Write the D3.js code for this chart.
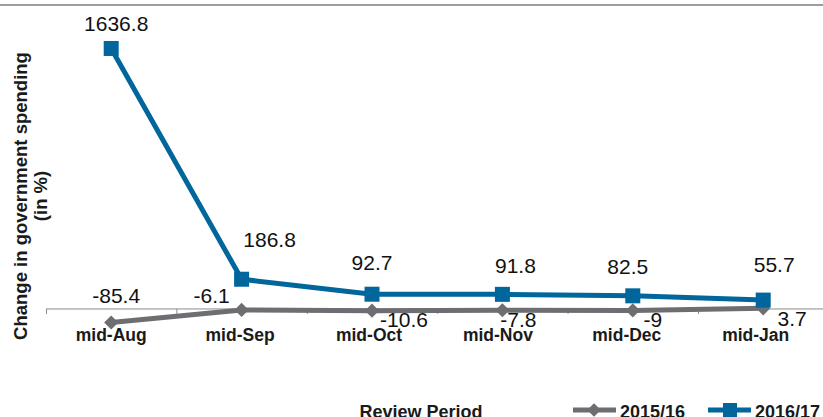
<!DOCTYPE html>
<html>
<head>
<meta charset="utf-8">
<script src="https://cdn.jsdelivr.net/npm/d3@7"></script>
<style>
  body { margin: 0; background: #fff; }
  svg { display: block; font-family: "Liberation Sans", Arial, Helvetica, sans-serif; }
</style>
</head>
<body>
<div id="chart"></div>
<script>
// data
var periods = ["mid-Aug", "mid-Sep", "mid-Oct", "mid-Nov", "mid-Dec", "mid-Jan"];
var spend1516 = [-85.4, -6.1, -10.6, -7.8, -9, 3.7];
var spend1617 = [1636.8, 186.8, 92.7, 91.8, 82.5, 55.7];
var seriesNames = ["2015/16", "2016/17"];

// label offsets (dx, dy) from each point, as placed in the original
var labelOff1516 = [[5, -20], [-30, -7], [32, 16], [16, 17], [20, 17], [29, 18]];
var labelOff1617 = [[5, -17], [28, -32], [0, -24], [13, -21], [-5, -22], [11, -28]];

// size
var width = 823;
var height = 417;
var plotLeft = 46;
var bandW = 130.4;

// colors
var blue = "#00669b";
var gray = "#6d6e71";
var axisColor = "#8a8a8a";

var svg = d3.select("#chart")
            .append("svg")
            .attr("width", width)
            .attr("height", height);

// scales
var xScale = d3.scaleBand()
               .domain(periods)
               .range([plotLeft, plotLeft + bandW * periods.length]);
var yScale = d3.scaleLinear()
               .domain([-300, 1910])
               .range([356.7, 5]);
function cx(d, i) { return xScale(periods[i]) + xScale.bandwidth() / 2; }

// top border line
svg.append("line")
   .attr("x1", 0).attr("x2", width)
   .attr("y1", yScale(1910)).attr("y2", yScale(1910))
   .attr("stroke", "#9d9d9d")
   .attr("stroke-width", 2);

// x axis line at zero
var y0 = yScale(0);
svg.append("line")
   .attr("x1", plotLeft).attr("x2", width)
   .attr("y1", y0).attr("y2", y0)
   .attr("stroke", axisColor)
   .attr("stroke-width", 1);
// boundary ticks
var bounds = periods.map(function(p) { return xScale(p); });
svg.selectAll(".tick_mark")
   .data(bounds)
   .enter().append("line")
   .attr("class", "tick_mark")
   .attr("x1", function(d) { return d + 0.5; })
   .attr("x2", function(d) { return d + 0.5; })
   .attr("y1", y0)
   .attr("y2", y0 + 5)
   .attr("stroke", axisColor)
   .attr("stroke-width", 1);

// category labels
svg.selectAll(".cat_label")
   .data(periods)
   .enter().append("text")
   .attr("class", "cat_label")
   .attr("x", function(d, i) { return cx(d, i) - 1.5 * i; })
   .attr("y", 341)
   .attr("text-anchor", "middle")
   .attr("font-size", 17.5)
   .attr("font-weight", "bold")
   .attr("fill", "#1a1a1a")
   .text(function(d) { return d; });

// y axis title
var yTitle = svg.append("text")
   .attr("transform", "translate(27,196) rotate(-90)")
   .attr("text-anchor", "middle")
   .attr("font-size", 18.5)
   .attr("font-weight", "bold")
   .attr("fill", "#1a1a1a");
yTitle.append("tspan").attr("x", 0).attr("dy", 0).text("Change in government spending");
yTitle.append("tspan").attr("x", 0).attr("dy", 19.5).text("(in %)");

// x axis title
svg.append("text")
   .attr("x", 421)
   .attr("y", 418)
   .attr("text-anchor", "middle")
   .attr("font-size", 18)
   .attr("font-weight", "bold")
   .attr("fill", "#1a1a1a")
   .text("Review Period");

// lines
var line = d3.line()
             .x(function(d, i) { return cx(d, i); })
             .y(function(d) { return yScale(d); });

svg.append("path")
   .datum(spend1516)
   .attr("fill", "none")
   .attr("stroke", gray)
   .attr("stroke-width", 5)
   .attr("d", line);

svg.append("path")
   .datum(spend1617)
   .attr("fill", "none")
   .attr("stroke", blue)
   .attr("stroke-width", 5)
   .attr("d", line);

// markers
var diamond = d3.symbol().type(d3.symbolSquare).size(100);
svg.selectAll(".m1516")
   .data(spend1516)
   .enter().append("path")
   .attr("class", "m1516")
   .attr("d", diamond)
   .attr("fill", gray)
   .attr("transform", function(d, i) {
     return "translate(" + cx(d, i) + "," + yScale(d) + ") rotate(45)";
   });

svg.selectAll(".m1617")
   .data(spend1617)
   .enter().append("rect")
   .attr("class", "m1617")
   .attr("x", function(d, i) { return cx(d, i) - 7.5; })
   .attr("y", function(d) { return yScale(d) - 7.5; })
   .attr("width", 15)
   .attr("height", 15)
   .attr("fill", blue);

// data labels
svg.selectAll(".l1516")
   .data(spend1516)
   .enter().append("text")
   .attr("class", "l1516")
   .attr("x", function(d, i) { return cx(d, i) + labelOff1516[i][0]; })
   .attr("y", function(d, i) { return yScale(d) + labelOff1516[i][1]; })
   .attr("text-anchor", "middle")
   .attr("font-size", 21)
   .attr("fill", "#111")
   .text(function(d) { return d; });

svg.selectAll(".l1617")
   .data(spend1617)
   .enter().append("text")
   .attr("class", "l1617")
   .attr("x", function(d, i) { return cx(d, i) + labelOff1617[i][0]; })
   .attr("y", function(d, i) { return yScale(d) + labelOff1617[i][1]; })
   .attr("text-anchor", "middle")
   .attr("font-size", 21)
   .attr("fill", "#111")
   .text(function(d) { return d; });

// legend
var legend = [
  {name: seriesNames[0], color: gray, x: 573, shape: "diamond"},
  {name: seriesNames[1], color: blue, x: 708, shape: "square"}
];
var legY = 410;
legend.forEach(function(l) {
  svg.append("line")
     .attr("x1", l.x).attr("x2", l.x + 43)
     .attr("y1", legY).attr("y2", legY)
     .attr("stroke", l.color)
     .attr("stroke-width", 5);
  if (l.shape == "diamond") {
    svg.append("path")
       .attr("d", d3.symbol().type(d3.symbolSquare).size(90))
       .attr("fill", l.color)
       .attr("transform", "translate(" + (l.x + 21) + "," + legY + ") rotate(45)");
  } else {
    svg.append("rect")
       .attr("x", l.x + 15).attr("y", legY - 7)
       .attr("width", 14).attr("height", 14)
       .attr("fill", l.color);
  }
  svg.append("text")
     .attr("x", l.x + 47)
     .attr("y", legY + 8)
     .attr("font-size", 18)
     .attr("font-weight", "bold")
     .attr("fill", "#1a1a1a")
     .text(l.name);
});
</script>
</body>
</html>
